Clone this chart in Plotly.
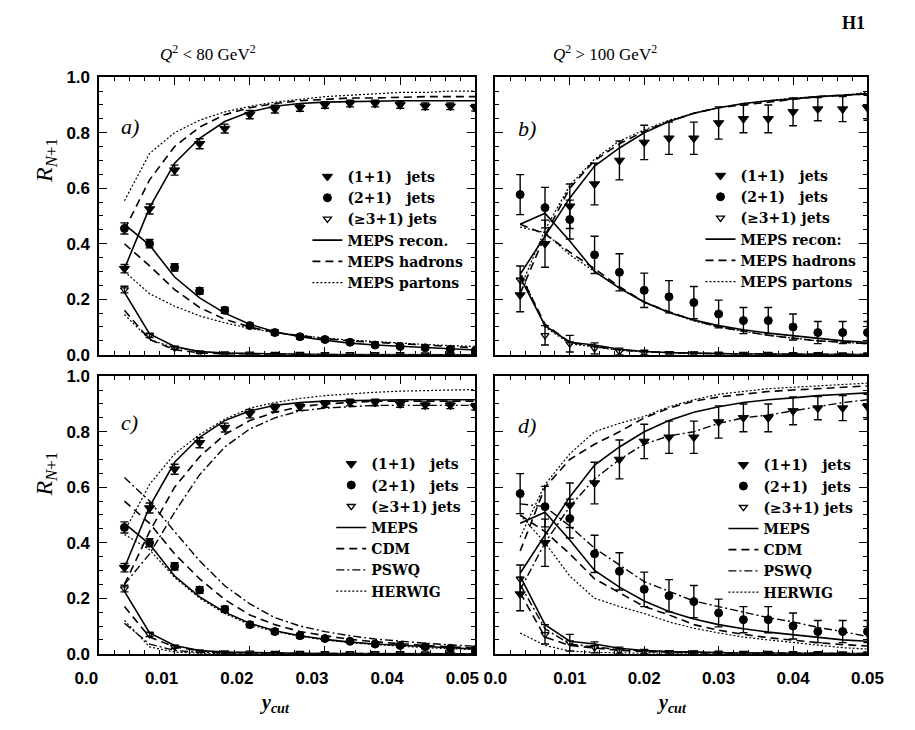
import plotly.graph_objects as go

# ---------------------------------------------------------------- data
ycut = [0.00333, 0.00667, 0.01, 0.01333, 0.01667, 0.02, 0.02333, 0.02667,
        0.03, 0.03333, 0.03667, 0.04, 0.04333, 0.04667, 0.05]
x_ticks = [0.0, 0.01, 0.02, 0.03, 0.04, 0.05]
x_ticktext = ["0.0", "0.01", "0.02", "0.03", "0.04", "0.05"]
y_ticks = [0.0, 0.2, 0.4, 0.6, 0.8, 1.0]
y_ticktext = ["0.0", "0.2", "0.4", "0.6", "0.8", "1.0"]

# measured jet rates, Q^2 < 80 GeV^2
lo_11 = [0.31, 0.525, 0.665, 0.76, 0.815, 0.865, 0.885, 0.89, 0.90, 0.905, 0.905, 0.90, 0.895, 0.895, 0.89]
lo_11_err = [0.015, 0.018, 0.018, 0.018, 0.016, 0.015, 0.014, 0.013, 0.012, 0.012, 0.012, 0.012, 0.012, 0.012, 0.012]
lo_21 = [0.455, 0.40, 0.315, 0.23, 0.16, 0.105, 0.08, 0.065, 0.055, 0.045, 0.035, 0.03, 0.025, 0.02, 0.015]
lo_21_err = [0.02, 0.015, 0.013, 0.012, 0.011, 0.01, 0.009, 0.008, 0.007, 0.007, 0.006, 0.006, 0.006, 0.005, 0.005]
lo_31 = [0.235, 0.07, 0.025, 0.008, 0.004, 0.003, 0.002, 0.002, 0.001, 0.001, 0.001, 0.001, 0.0, 0.0, 0.0]
lo_31_err = [0.012, 0.008, 0.005, 0.003, 0.002, 0.002, 0.001, 0.001, 0.001, 0.001, 0.001, 0.001, 0.001, 0.001, 0.001]

# measured jet rates, Q^2 > 100 GeV^2
hi_11 = [0.215, 0.40, 0.535, 0.615, 0.70, 0.765, 0.78, 0.78, 0.835, 0.85, 0.85, 0.875, 0.885, 0.885, 0.89]
hi_11_err = [0.06, 0.085, 0.08, 0.075, 0.07, 0.062, 0.058, 0.058, 0.058, 0.05, 0.05, 0.05, 0.042, 0.045, 0.045]
hi_21 = [0.577, 0.53, 0.487, 0.36, 0.297, 0.232, 0.209, 0.188, 0.147, 0.123, 0.123, 0.10, 0.08, 0.08, 0.08]
hi_21_err = [0.072, 0.073, 0.07, 0.067, 0.067, 0.062, 0.058, 0.058, 0.05, 0.047, 0.047, 0.047, 0.04, 0.04, 0.04]
hi_31 = [0.27, 0.07, 0.04, 0.023, 0.012, 0.008, 0.005, 0.004, 0.003, 0.002, 0.002, 0.001, 0.001, 0.0, 0.0]
hi_31_err = [0.05, 0.035, 0.03, 0.02, 0.012, 0.008, 0.006, 0.005, 0.004, 0.003, 0.003, 0.003, 0.003, 0.003, 0.003]

# MEPS, detector level (recon.)
meps_lo_11 = [0.31, 0.53, 0.69, 0.78, 0.84, 0.875, 0.895, 0.905, 0.91, 0.912, 0.915, 0.915, 0.915, 0.915, 0.915]
meps_lo_21 = [0.47, 0.395, 0.28, 0.205, 0.15, 0.11, 0.083, 0.065, 0.052, 0.042, 0.035, 0.03, 0.025, 0.02, 0.017]
meps_lo_31 = [0.225, 0.075, 0.03, 0.012, 0.006, 0.004, 0.003, 0.002, 0.001, 0.001, 0.001, 0.0, 0.0, 0.0, 0.0]
meps_hi_11 = [0.29, 0.43, 0.565, 0.68, 0.745, 0.80, 0.84, 0.87, 0.89, 0.905, 0.915, 0.922, 0.93, 0.935, 0.94]
meps_hi_21 = [0.47, 0.51, 0.41, 0.30, 0.24, 0.19, 0.152, 0.125, 0.105, 0.09, 0.078, 0.068, 0.058, 0.05, 0.045]
meps_hi_31 = [0.28, 0.105, 0.045, 0.035, 0.02, 0.012, 0.008, 0.005, 0.004, 0.003, 0.002, 0.002, 0.001, 0.001, 0.001]

# MEPS, hadron level
had_lo_11 = [0.45, 0.63, 0.75, 0.82, 0.865, 0.89, 0.905, 0.915, 0.92, 0.925, 0.925, 0.928, 0.93, 0.93, 0.93]
had_lo_21 = [0.40, 0.32, 0.235, 0.17, 0.128, 0.10, 0.08, 0.068, 0.058, 0.05, 0.045, 0.04, 0.035, 0.03, 0.025]
had_lo_31 = [0.16, 0.055, 0.018, 0.007, 0.003, 0.002, 0.001, 0.001, 0.0, 0.0, 0.0, 0.0, 0.0, 0.0, 0.0]
had_hi_11 = [0.22, 0.43, 0.60, 0.70, 0.76, 0.805, 0.84, 0.87, 0.89, 0.90, 0.91, 0.92, 0.93, 0.935, 0.94]
had_hi_21 = [0.47, 0.435, 0.37, 0.31, 0.245, 0.19, 0.155, 0.125, 0.10, 0.085, 0.07, 0.06, 0.05, 0.045, 0.04]
had_hi_31 = [0.29, 0.11, 0.045, 0.03, 0.018, 0.011, 0.007, 0.005, 0.004, 0.003, 0.002, 0.002, 0.001, 0.001, 0.001]

# MEPS, parton level
par_lo_11 = [0.555, 0.725, 0.80, 0.845, 0.875, 0.895, 0.91, 0.92, 0.93, 0.935, 0.94, 0.945, 0.945, 0.95, 0.95]
par_lo_21 = [0.30, 0.22, 0.175, 0.14, 0.115, 0.095, 0.08, 0.07, 0.06, 0.053, 0.047, 0.042, 0.037, 0.033, 0.03]
par_lo_31 = [0.145, 0.055, 0.025, 0.012, 0.006, 0.004, 0.003, 0.002, 0.001, 0.001, 0.0, 0.0, 0.0, 0.0, 0.0]
par_hi_11 = [0.24, 0.45, 0.61, 0.705, 0.77, 0.81, 0.845, 0.87, 0.89, 0.905, 0.915, 0.925, 0.93, 0.935, 0.945]
par_hi_21 = [0.46, 0.44, 0.36, 0.30, 0.24, 0.188, 0.152, 0.122, 0.10, 0.085, 0.07, 0.06, 0.05, 0.045, 0.04]
par_hi_31 = [0.30, 0.10, 0.04, 0.028, 0.016, 0.01, 0.006, 0.004, 0.003, 0.002, 0.002, 0.001, 0.001, 0.001, 0.001]

# CDM (Ariadne)
cdm_lo_11 = [0.25, 0.44, 0.60, 0.71, 0.79, 0.84, 0.87, 0.89, 0.90, 0.905, 0.91, 0.91, 0.91, 0.91, 0.91]
cdm_lo_21 = [0.55, 0.47, 0.36, 0.27, 0.195, 0.14, 0.105, 0.08, 0.065, 0.052, 0.043, 0.036, 0.03, 0.025, 0.02]
cdm_lo_31 = [0.17, 0.06, 0.025, 0.01, 0.005, 0.003, 0.002, 0.001, 0.001, 0.0, 0.0, 0.0, 0.0, 0.0, 0.0]
cdm_hi_11 = [0.37, 0.60, 0.70, 0.755, 0.80, 0.85, 0.885, 0.91, 0.925, 0.935, 0.945, 0.95, 0.955, 0.96, 0.965]
cdm_hi_21 = [0.50, 0.44, 0.36, 0.27, 0.22, 0.17, 0.14, 0.105, 0.085, 0.07, 0.058, 0.048, 0.04, 0.033, 0.028]
cdm_hi_31 = [0.22, 0.06, 0.03, 0.02, 0.012, 0.008, 0.005, 0.003, 0.002, 0.002, 0.001, 0.001, 0.001, 0.0, 0.0]

# PSWQ (parton shower with W/Q)
psw_lo_11 = [0.25, 0.36, 0.51, 0.645, 0.745, 0.81, 0.85, 0.875, 0.885, 0.89, 0.895, 0.895, 0.895, 0.895, 0.895]
psw_lo_21 = [0.635, 0.55, 0.44, 0.335, 0.245, 0.18, 0.13, 0.10, 0.08, 0.065, 0.053, 0.045, 0.038, 0.032, 0.027]
psw_lo_31 = [0.11, 0.035, 0.012, 0.005, 0.002, 0.001, 0.001, 0.0, 0.0, 0.0, 0.0, 0.0, 0.0, 0.0, 0.0]
psw_hi_11 = [0.23, 0.40, 0.53, 0.63, 0.70, 0.755, 0.785, 0.80, 0.83, 0.85, 0.86, 0.875, 0.89, 0.905, 0.915]
psw_hi_21 = [0.54, 0.53, 0.46, 0.38, 0.32, 0.26, 0.225, 0.19, 0.17, 0.15, 0.13, 0.115, 0.095, 0.08, 0.062]
psw_hi_31 = [0.25, 0.09, 0.035, 0.025, 0.015, 0.01, 0.007, 0.005, 0.004, 0.003, 0.002, 0.002, 0.001, 0.001, 0.001]

# HERWIG
hw_lo_11 = [0.44, 0.61, 0.72, 0.79, 0.845, 0.885, 0.905, 0.92, 0.93, 0.937, 0.942, 0.946, 0.948, 0.95, 0.952]
hw_lo_21 = [0.43, 0.375, 0.275, 0.20, 0.145, 0.105, 0.08, 0.063, 0.05, 0.04, 0.033, 0.027, 0.022, 0.018, 0.015]
hw_lo_31 = [0.12, 0.025, 0.006, 0.002, 0.001, 0.0, 0.0, 0.0, 0.0, 0.0, 0.0, 0.0, 0.0, 0.0, 0.0]
hw_hi_11 = [0.42, 0.61, 0.72, 0.80, 0.83, 0.855, 0.89, 0.915, 0.935, 0.945, 0.955, 0.96, 0.965, 0.97, 0.975]
hw_hi_21 = [0.50, 0.40, 0.28, 0.20, 0.17, 0.145, 0.115, 0.092, 0.075, 0.06, 0.05, 0.04, 0.03, 0.022, 0.017]
hw_hi_31 = [0.075, 0.03, 0.01, 0.005, 0.003, 0.002, 0.001, 0.001, 0.0, 0.0, 0.0, 0.0, 0.0, 0.0, 0.0]

# ---------------------------------------------------------------- layout constants
W, H = 915, 730
LEFT_X = [78 / W, 472 / W]
RIGHT_X = [493 / W, 883 / W]
TOP_Y = [1 - 355 / H, 1 - 70 / H]
BOT_Y = [1 - 662 / H, 1 - 377 / H]

SERIF = "Liberation Serif"
LEG_FONT = dict(family="DejaVu Serif", size=14, color="black", weight="bold")
TICK_FONT = dict(family="Liberation Sans", size=17, color="black", weight="bold")

DASH = "8px,5px"
DOT = "2px,2px"
DASHDOT = "8px,3px,2px,3px"

fig = go.Figure()

JETS = ["(1+1)\u00a0\u00a0\u00a0jets", "(2+1)\u00a0\u00a0\u00a0jets", "(\u22653+1)\u00a0jets"]


def add_data(xa, ya, legend, series):
    styles = [("triangle-down", 9, 1.0), ("circle", 8, 1.0), ("triangle-down-open", 7, 1.3)]
    for name, (vals, errs), (sym, size, lw) in zip(JETS, series, styles):
        fig.add_trace(go.Scatter(
            x=ycut, y=vals, mode="markers", name=name, legend=legend,
            xaxis=xa, yaxis=ya,
            marker=dict(symbol=sym, size=size, color="black",
                        line=dict(color="black", width=lw)),
            error_y=dict(type="data", array=errs, color="black",
                         thickness=1.4, width=4),
        ))


def add_model(xa, ya, legend, name, dash, width, curves):
    xs, ys = [], []
    for c in curves:
        xs += ycut + [None]
        ys += list(c) + [None]
    fig.add_trace(go.Scatter(
        x=xs, y=ys, mode="lines", name=name, legend=legend,
        xaxis=xa, yaxis=ya, connectgaps=False,
        line=dict(color="black", dash=dash, width=width),
    ))


lo_series = [(lo_11, lo_11_err), (lo_21, lo_21_err), (lo_31, lo_31_err)]
hi_series = [(hi_11, hi_11_err), (hi_21, hi_21_err), (hi_31, hi_31_err)]

# a) Q^2 < 80, MEPS at three levels
add_data("x", "y", "legend", lo_series)
add_model("x", "y", "legend", "MEPS recon.", "solid", 1.6, [meps_lo_11, meps_lo_21, meps_lo_31])
add_model("x", "y", "legend", "MEPS hadrons", DASH, 1.6, [had_lo_11, had_lo_21, had_lo_31])
add_model("x", "y", "legend", "MEPS partons", DOT, 1.2, [par_lo_11, par_lo_21, par_lo_31])

# b) Q^2 > 100, MEPS at three levels
add_data("x2", "y2", "legend2", hi_series)
add_model("x2", "y2", "legend2", "MEPS recon:", "solid", 1.6, [meps_hi_11, meps_hi_21, meps_hi_31])
add_model("x2", "y2", "legend2", "MEPS hadrons", DASH, 1.6, [had_hi_11, had_hi_21, had_hi_31])
add_model("x2", "y2", "legend2", "MEPS partons", DOT, 1.2, [par_hi_11, par_hi_21, par_hi_31])

# c) Q^2 < 80, model comparison
add_data("x3", "y3", "legend3", lo_series)
add_model("x3", "y3", "legend3", "MEPS", "solid", 1.6, [meps_lo_11, meps_lo_21, meps_lo_31])
add_model("x3", "y3", "legend3", "CDM", DASH, 1.6, [cdm_lo_11, cdm_lo_21, cdm_lo_31])
add_model("x3", "y3", "legend3", "PSWQ", DASHDOT, 1.4, [psw_lo_11, psw_lo_21, psw_lo_31])
add_model("x3", "y3", "legend3", "HERWIG", DOT, 1.2, [hw_lo_11, hw_lo_21, hw_lo_31])

# d) Q^2 > 100, model comparison
add_data("x4", "y4", "legend4", hi_series)
add_model("x4", "y4", "legend4", "MEPS", "solid", 1.6, [meps_hi_11, meps_hi_21, meps_hi_31])
add_model("x4", "y4", "legend4", "CDM", DASH, 1.6, [cdm_hi_11, cdm_hi_21, cdm_hi_31])
add_model("x4", "y4", "legend4", "PSWQ", DASHDOT, 1.4, [psw_hi_11, psw_hi_21, psw_hi_31])
add_model("x4", "y4", "legend4", "HERWIG", DOT, 1.2, [hw_hi_11, hw_hi_21, hw_hi_31])


def xaxis(domain, anchor, labels, shift=0):
    return dict(domain=domain, anchor=anchor, range=[0, 0.05], showgrid=False,
                zeroline=False, showline=True, linewidth=2, linecolor="black",
                mirror="allticks", ticks="inside", ticklen=8, tickwidth=1.4,
                tickcolor="black", tickvals=x_ticks, ticktext=x_ticktext,
                showticklabels=labels, tickfont=TICK_FONT, ticklabelstandoff=8,
                ticklabelshift=shift,
                minor=dict(ticks="inside", ticklen=4, tickwidth=1.2,
                           tickcolor="black", dtick=0.002, tick0=0))


def yaxis(domain, anchor, labels):
    return dict(domain=domain, anchor=anchor, range=[0, 1], showgrid=False,
                zeroline=False, showline=True, linewidth=2, linecolor="black",
                mirror="allticks", ticks="inside", ticklen=8, tickwidth=1.4,
                tickcolor="black", tickvals=y_ticks, ticktext=y_ticktext,
                showticklabels=labels, tickfont=TICK_FONT, ticklabelstandoff=4,
                minor=dict(ticks="inside", ticklen=4, tickwidth=1.2,
                           tickcolor="black", dtick=0.05, tick0=0))


def legend_at(px, py):
    return dict(x=px / W, y=1 - py / H, xanchor="left", yanchor="top",
                bgcolor="rgba(0,0,0,0)", borderwidth=0, font=LEG_FONT,
                tracegroupgap=0, itemwidth=30, traceorder="normal")


fig.update_layout(
    width=W, height=H, margin=dict(l=0, r=0, t=0, b=0),
    paper_bgcolor="white", plot_bgcolor="white",
    showlegend=True,
    xaxis=xaxis(LEFT_X, "y", False), yaxis=yaxis(TOP_Y, "x", True),
    xaxis2=xaxis(RIGHT_X, "y2", False), yaxis2=yaxis(TOP_Y, "x2", False),
    xaxis3=xaxis(LEFT_X, "y3", True, -13), yaxis3=yaxis(BOT_Y, "x3", True),
    xaxis4=xaxis(RIGHT_X, "y4", True), yaxis4=yaxis(BOT_Y, "x4", False),
    legend=legend_at(296, 156),
    legend2=legend_at(708, 155),
    legend3=legend_at(321, 451),
    legend4=legend_at(732, 452),
)

ann = []


def text(x, y, s, size, family=SERIF, angle=0, **kw):
    ann.append(dict(x=x / W, y=1 - y / H, xref="paper", yref="paper", text=s,
                    showarrow=False, textangle=angle,
                    font=dict(family=family, size=size, color="black", **kw),
                    xanchor="center", yanchor="middle"))


for lab, (px, py) in zip(["a)", "b)", "c)", "d)"],
                         [(110, 121), (526, 123), (110, 425), (526, 428)]):
    text(px, py, lab, 22, style="italic")

text(192, 45, "<i>Q</i><sup>2</sup> &lt; 80 GeV<sup>2</sup>", 17)
text(608, 45, "<i>Q</i><sup>2</sup> &gt; 100 GeV<sup>2</sup>", 17)
text(868, 14, "H1", 18, weight="bold")
for px in (262, 678):
    text(px, 713, "<b><i>y</i><sub><i>cut</i></sub></b>", 20)
for py in (155, 477):
    text(22, py, "<i>R</i><sub><i>N</i>+1</sub>", 24, angle=-90)

fig.update_layout(annotations=ann)

fig.write_html("out.html")
